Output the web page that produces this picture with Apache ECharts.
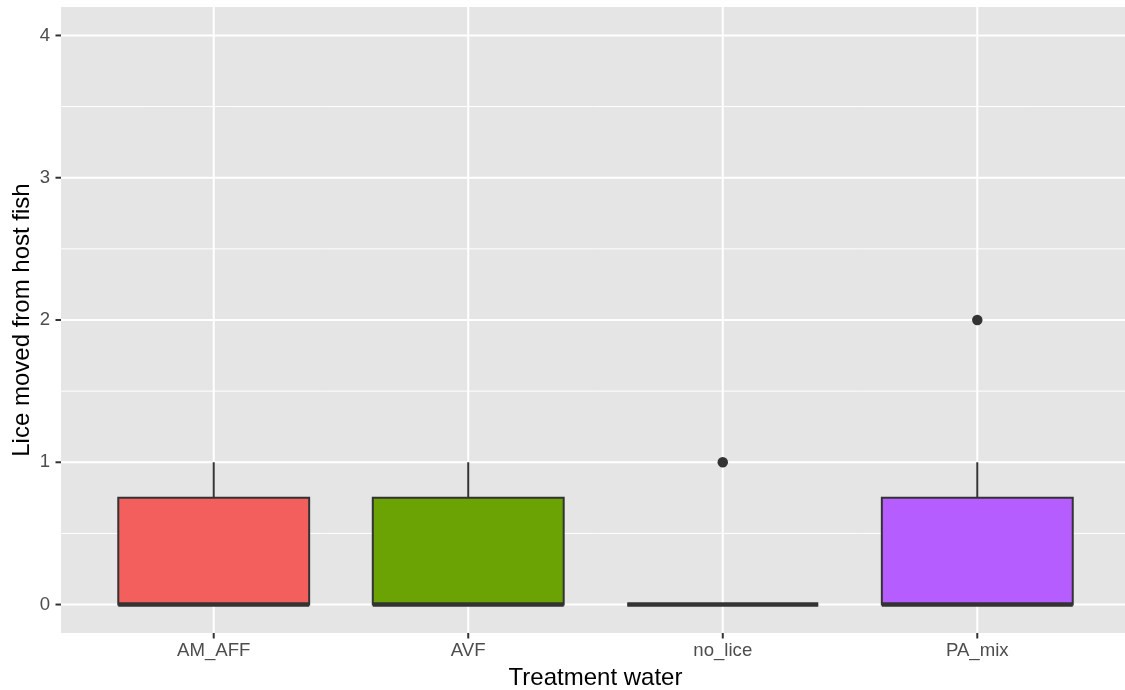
<!DOCTYPE html>
<html>
<head>
<meta charset="utf-8">
<script src="https://cdn.jsdelivr.net/npm/echarts@6/dist/echarts.min.js"></script>
<style>
  html, body { margin: 0; padding: 0; background: #ffffff; }
  #chart { width: 1125px; height: 690px; }
</style>
</head>
<body>
<div id="chart"></div>
<script>
// Treatment groups along the x axis
const categories = ['AM_AFF', 'AVF', 'no_lice', 'PA_mix'];
// Box statistics per group
const lowerWhisker = [0, 0, 0, 0];
const q1 = [0, 0, 0, 0];
const median = [0, 0, 0, 0];
const q3 = [0.75, 0.75, 0, 0.75];
const upperWhisker = [1, 1, 0, 1];
// Outlying observations: [group index (1-based), value]
const outliers = [[3, 1], [4, 2]];
// Fill colour per group
const fillColors = ['#F25F5C', '#6AA303', '#00BFC4', '#B55DFF'];
// Grid line positions on the y axis
const yMajor = [0, 1, 2, 3, 4];
const yMinor = [0.5, 1.5, 2.5, 3.5];

const FONT = '"Liberation Sans", Arial, Helvetica, sans-serif';
const BOX_W = 0.75;
// grid line kinds
const H_MINOR = 0, H_MAJOR = 1, V_MAJOR = 2;

const chart = echarts.init(document.getElementById('chart'), null, { renderer: 'canvas' });

function isWhole(v) { return Math.abs(v - Math.round(v)) < 1e-6; }

const boxData = categories.map((c, i) => [i + 1, lowerWhisker[i], q1[i], median[i], q3[i], upperWhisker[i]]);

const gridLineData = [
  ...yMinor.map(v => [H_MINOR, v]),
  ...yMajor.map(v => [H_MAJOR, v]),
  ...categories.map((c, i) => [V_MAJOR, i + 1])
];

const option = {
  animation: false,
  backgroundColor: '#ffffff',
  grid: {
    left: 61, right: -5, top: 7, bottom: 57,
    outerBoundsMode: 'none', containLabel: false,
    show: true, backgroundColor: '#E5E5E5', borderWidth: 0
  },
  xAxis: {
    type: 'value', min: 0.4, max: 4.6, interval: 0.2,
    name: 'Treatment water', nameLocation: 'middle', nameGap: 33, nameMoveOverlap: false,
    nameTextStyle: { fontFamily: FONT, fontSize: 24, color: '#000000' },
    axisLine: { show: false }, axisTick: { show: false }, splitLine: { show: false },
    axisLabel: {
      margin: 8, fontFamily: FONT, fontSize: 18.6, color: '#4D4D4D',
      formatter: v => isWhole(v) && Math.round(v) >= 1 && Math.round(v) <= categories.length ? categories[Math.round(v) - 1] : ''
    }
  },
  yAxis: {
    type: 'value', min: -0.2, max: 4.2, interval: 0.2,
    name: 'Lice moved from host fish', nameLocation: 'middle', nameGap: 27, nameMoveOverlap: false,
    nameTextStyle: { fontFamily: FONT, fontSize: 24, color: '#000000' },
    axisLine: { show: false }, axisTick: { show: false }, splitLine: { show: false },
    axisLabel: {
      margin: 11, fontFamily: FONT, fontSize: 18.6, color: '#4D4D4D',
      formatter: v => isWhole(v) && Math.round(v) >= 0 ? String(Math.round(v)) : ''
    }
  },
  series: [
    {
      // panel grid lines and axis ticks
      type: 'custom', clip: false, silent: true, z: 1,
      data: gridLineData,
      renderItem: function (params, api) {
        const cs = params.coordSys;
        const kind = api.value(0);
        const v = api.value(1);
        if (kind === V_MAJOR) {
          const x = api.coord([v, 0])[0];
          return {
            type: 'group', children: [
              { type: 'line', shape: { x1: x, y1: cs.y, x2: x, y2: cs.y + cs.height }, style: { stroke: '#FFFFFF', lineWidth: 2 } },
              { type: 'line', shape: { x1: x, y1: cs.y + cs.height, x2: x, y2: cs.y + cs.height + 5.5 }, style: { stroke: '#333333', lineWidth: 2 } }
            ]
          };
        }
        const y = api.coord([1, v])[1];
        const major = kind === H_MAJOR;
        const children = [
          { type: 'line', shape: { x1: cs.x, y1: y, x2: cs.x + cs.width, y2: y }, style: { stroke: '#FFFFFF', lineWidth: major ? 2 : 1 } }
        ];
        if (major) {
          children.push({ type: 'line', shape: { x1: cs.x - 5.5, y1: y, x2: cs.x, y2: y }, style: { stroke: '#333333', lineWidth: 2 } });
        }
        return { type: 'group', children: children };
      }
    },
    {
      // boxes with whiskers and median
      type: 'custom', z: 3,
      data: boxData,
      renderItem: function (params, api) {
        const i = params.dataIndex;
        const xc = api.value(0);
        const pLo = api.coord([xc, api.value(1)]);
        const pQ1 = api.coord([xc, api.value(2)]);
        const pMed = api.coord([xc, api.value(3)]);
        const pQ3 = api.coord([xc, api.value(4)]);
        const pHi = api.coord([xc, api.value(5)]);
        const xl = api.coord([xc - BOX_W / 2, 0])[0];
        const xr = api.coord([xc + BOX_W / 2, 0])[0];
        const stroke = '#333333';
        return {
          type: 'group', children: [
            { type: 'line', shape: { x1: pQ3[0], y1: pQ3[1], x2: pHi[0], y2: pHi[1] }, style: { stroke: stroke, lineWidth: 2 } },
            { type: 'line', shape: { x1: pQ1[0], y1: pQ1[1], x2: pLo[0], y2: pLo[1] }, style: { stroke: stroke, lineWidth: 2 } },
            { type: 'rect', shape: { x: xl, y: pQ3[1], width: xr - xl, height: pQ1[1] - pQ3[1] },
              style: { fill: fillColors[i], stroke: stroke, lineWidth: 2 } },
            { type: 'line', shape: { x1: xl, y1: pMed[1], x2: xr, y2: pMed[1] }, style: { stroke: stroke, lineWidth: 4.5, lineCap: 'butt' } }
          ]
        };
      }
    },
    {
      type: 'scatter', z: 4,
      data: outliers,
      symbol: 'circle', symbolSize: 10.5,
      itemStyle: { color: '#333333', opacity: 1 }
    }
  ]
};

chart.setOption(option);
</script>
</body>
</html>
